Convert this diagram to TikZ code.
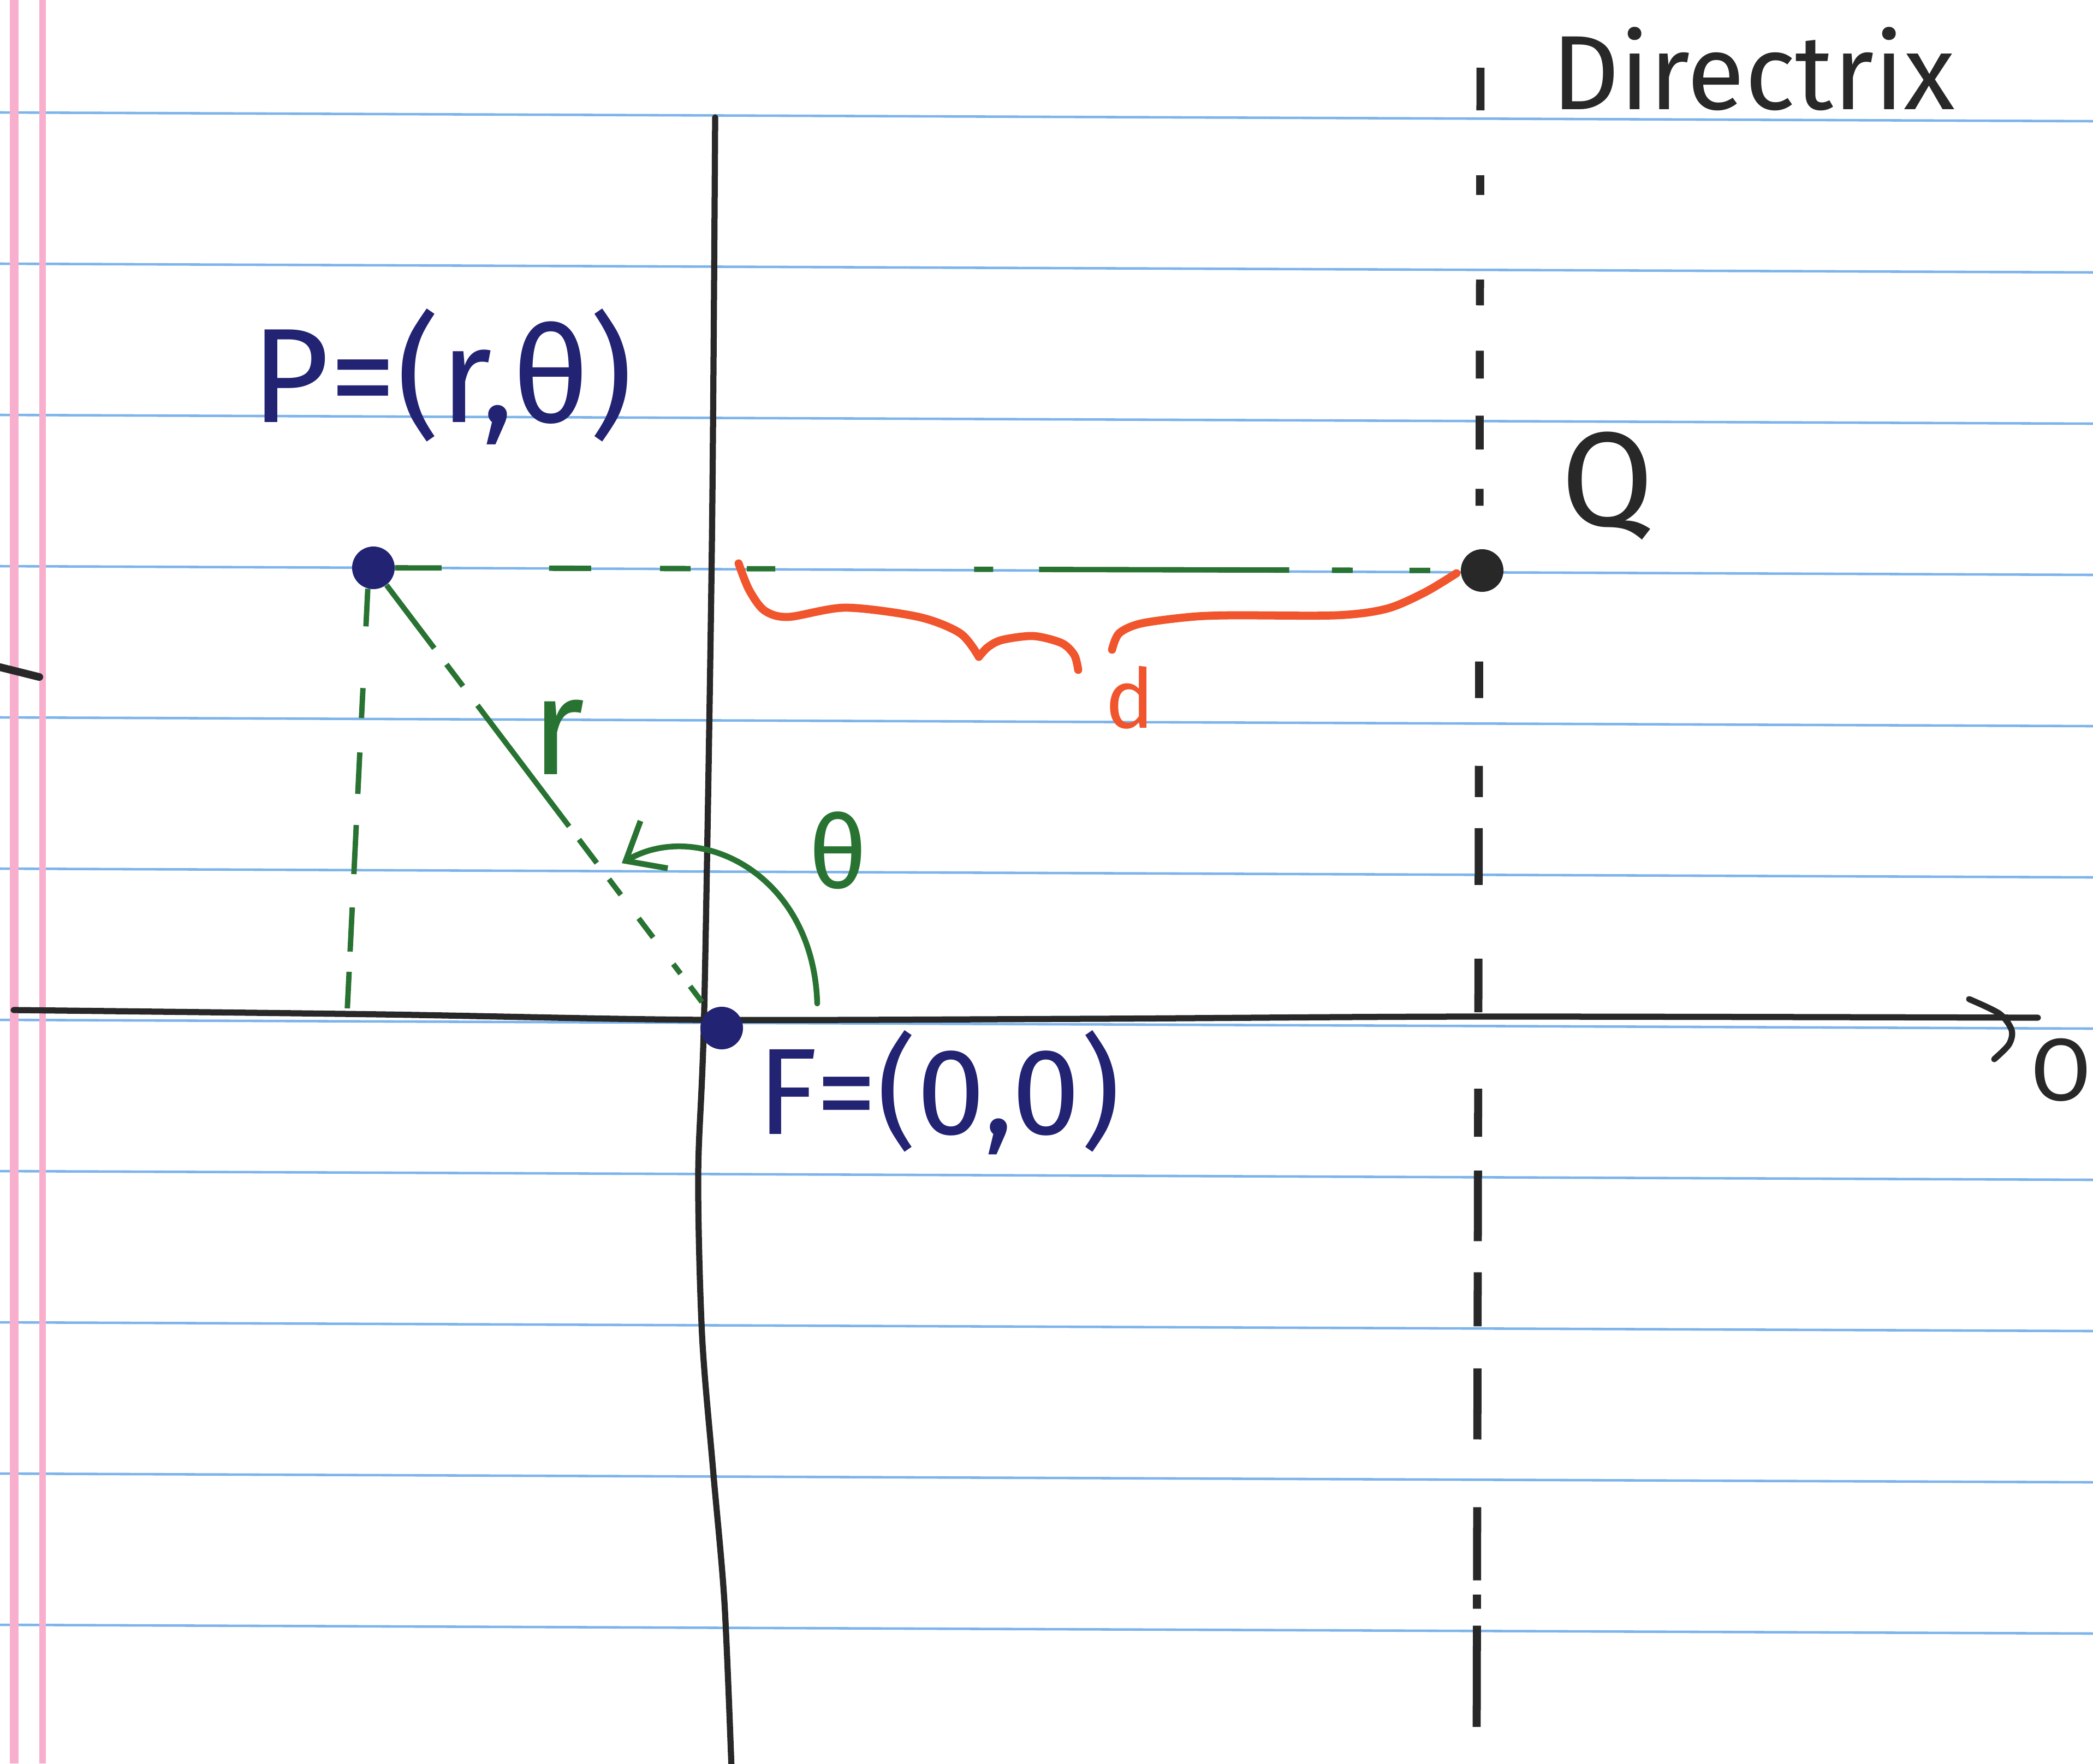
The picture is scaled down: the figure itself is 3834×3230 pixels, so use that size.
\documentclass[tikz,border=0pt]{standalone}
\usepackage{fontspec}
\setmainfont{Fira Sans}
\usetikzlibrary{arrows.meta,calc}
\definecolor{inkblue}{RGB}{35,35,115}
\definecolor{inkblack}{RGB}{40,40,40}
\definecolor{inkgreen}{RGB}{40,115,50}
\definecolor{inkred}{RGB}{240,85,45}
\definecolor{ruleblue}{RGB}{125,180,235}
\definecolor{marginpink}{RGB}{248,175,205}
\begin{document}
\begin{tikzpicture}[x=0.01cm,y=-0.01cm,
  rule/.style={draw=ruleblue,line width=1.3pt},
  margin/.style={draw=marginpink,line width=4.5pt},
  axis/.style={draw=inkblack,line width=3.2pt,line cap=round,line join=round},
  dotblue/.style={circle,fill=inkblue,inner sep=0pt,minimum size=0.78cm},
  dotblack/.style={circle,fill=inkblack,inner sep=0pt,minimum size=0.78cm},
  gdash/.style={draw=inkgreen,line width=2.8pt,line cap=butt},
  ddash/.style={draw=inkblack,line width=4.2pt,line cap=butt},
  brace/.style={draw=inkred,line width=4.2pt,line cap=round,line join=round},
  garc/.style={draw=inkgreen,line width=3pt,line cap=round,line join=round},
  lbl/.style={inner sep=0pt},
]
\fill[white] (0,0) rectangle (3834,3230);
\useasboundingbox (0,0) rectangle (3834,3230);

% ruled paper
\foreach \k in {0,...,10}
  \draw[rule] (0,{206+277*\k}) -- (3834,{222+277*\k});
\draw[margin] (26,0) -- (26,3230);
\draw[margin,line width=3.6pt] (78,0) -- (78,3230);

% axes
\draw[axis] plot[smooth] coordinates {(1310,215) (1304,1000) (1290,1850) (1279,2150) (1286,2445) (1306,2690) (1327,2934) (1340,3240)};
\draw[axis] plot[smooth] coordinates {(25,1850) (700,1858) (1290,1868) (2000,1866) (2700,1862) (3733,1864)};
\draw[axis] plot[smooth] coordinates {(3607,1830) (3663,1857) (3685,1887) (3680,1913) (3653,1940)};
\draw[axis,line width=4pt] (0,1222) -- (72,1240);

% points
\node[dotblue] (P) at (684,1040) {};
\node[dotblue] (F) at (1322,1883) {};
\node[dotblack] (Q) at (2715,1045) {};
\coordinate (Dtop) at (2712,124);
\coordinate (Dbot) at (2705,3163);
\coordinate (Pfoot) at (636,1852);

% directrix
\draw[ddash,dash pattern=on 0.78cm off 1.19cm on 0.36cm off 1.55cm on 0.47cm off 0.83cm on 0.51cm off 0.68cm on 0.62cm off 0.72cm on 0.31cm off 2.85cm on 0.67cm off 1.24cm on 0.57cm off 0.57cm on 1.04cm off 1.35cm on 0.98cm off 1.40cm on 0.88cm off 0.62cm on 1.29cm off 0.57cm on 0.99cm off 0.77cm on 1.30cm off 1.24cm on 1.34cm off 0.26cm on 0.26cm off 0.31cm on 1.87cm off 1cm]
  (Dtop) -- (Dbot);

% green dashed constructions
\draw[gdash,dash pattern=on 0.85cm off 1.97cm on 0.77cm off 1.26cm on 0.56cm off 1.03cm on 0.52cm off 3.64cm on 0.35cm off 0.84cm on 4.58cm off 0.78cm on 0.38cm off 1.04cm on 0.38cm off 1cm]
  (P) -- (Q);
\draw[gdash,dash pattern=on 1.45cm off 0.37cm on 0.5cm off 0.44cm on 2.78cm off 0.30cm on 0.54cm off 0.37cm on 0.36cm off 0.54cm on 0.44cm off 0.61cm on 0.22cm off 0.29cm on 0.36cm off 1cm]
  (P) -- (F);
\draw[gdash,dash pattern=on 0.69cm off 1.13cm on 0.55cm off 0.63cm on 0.76cm off 0.57cm on 0.90cm off 0.61cm on 0.81cm off 0.37cm on 0.67cm off 1cm]
  (P.255) -- (Pfoot);

% angle theta
\coordinate (thA) at (1497,1838);
\coordinate (thB) at (1139,1581);
\draw[garc,-{Straight Barb[length=0.6cm,width=1cm]}] (thA) .. controls (1490,1600) and (1280,1500) .. (thB);

% red brace for d
\draw[brace] plot[smooth] coordinates {(1353,1032) (1372,1080) (1400,1118) (1444,1130) (1549,1113) (1683,1130) (1759,1160) (1793,1203)};
\draw[brace] plot[smooth] coordinates {(1793,1203) (1810,1185) (1836,1172) (1893,1165) (1945,1178) (1968,1200) (1975,1227)};
\draw[brace] plot[smooth] coordinates {(2037,1190) (2050,1160) (2090,1142) (2180,1130) (2257,1127) (2448,1127) (2540,1115) (2610,1085) (2668,1050)};

% labels
\node[lbl,text=inkblack,font=\fontsize{55}{60}\selectfont,anchor=base] (dirlbl) at (3212,200) {Directrix};
\node[lbl,text=inkblack,font=\fontsize{70}{80}\selectfont] (Qlbl) at (2945,890) {Q};
\node[lbl,text=inkblue,font=\fontsize{70}{80}\selectfont] (Plbl) at (810,690) {P=(r,θ)};
\node[lbl,text=inkblue,font=\fontsize{64}{70}\selectfont,anchor=base] (Flbl) at (1720,2077) {F=(0,0)};
\node[lbl,text=inkred,font=\fontsize{43}{50}\selectfont] (dlbl) at (2070,1278) {d};
\node[lbl,text=inkgreen,font=\fontsize{72}{80}\selectfont] (rlbl) at (1022,1350) {r};
\node[lbl,text=inkgreen,font=\fontsize{53}{60}\selectfont] (tlbl) at (1535,1558) {θ};
\node[lbl,text=inkblack,font=\fontsize{46}{50}\selectfont] (Olbl) at (3775,1960) {O};
\end{tikzpicture}
\end{document}
